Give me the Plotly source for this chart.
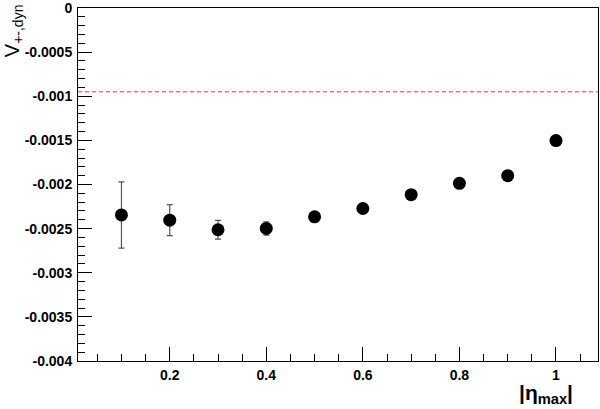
import plotly.graph_objects as go

eta_max = [0.1, 0.2, 0.3, 0.4, 0.5, 0.6, 0.7, 0.8, 0.9, 1.0]
v_dyn = [-0.002345, -0.002404, -0.002513, -0.002498, -0.002366, -0.002272, -0.002115, -0.001987, -0.001900, -0.001502]
v_err = [0.000375, 0.000175, 0.000107, 0.000075, 0.0, 0.0, 0.0, 0.0, 0.0, 0.0]
ref_level = -0.00095

x_tickvals = [0.2, 0.4, 0.6, 0.8, 1.0]
x_ticktext = ["0.2", "0.4", "0.6", "0.8", "1"]
y_tickvals = [0, -0.0005, -0.001, -0.0015, -0.002, -0.0025, -0.003, -0.0035, -0.004]
y_ticktext = ["0", "-0.0005", "-0.001", "-0.0015", "-0.002", "-0.0025", "-0.003", "-0.0035", "-0.004"]

font_b = dict(family="Liberation Sans, Arial, sans-serif", size=14, color="black", weight="bold")

fig = go.Figure()
fig.add_trace(go.Scatter(
    x=eta_max, y=v_dyn, mode="markers",
    marker=dict(color="black", size=13),
    error_y=dict(type="data", array=v_err, visible=True, color="#555555", thickness=1.2, width=3),
    showlegend=False,
))
fig.add_shape(type="line", xref="paper", x0=0, x1=1, yref="y", y0=ref_level, y1=ref_level,
              line=dict(color="#d63a3a", width=1, dash="4px,3px"))

fig.update_layout(
    width=600, height=409,
    margin=dict(l=78, r=2, t=8, b=48),
    paper_bgcolor="white", plot_bgcolor="white",
    xaxis=dict(range=[0.01, 1.087], showgrid=False, zeroline=False, automargin=False,
               showline=True, linecolor="black", linewidth=1, mirror=True,
               ticks="inside", ticklen=14, tickwidth=1, tickcolor="black",
               tickmode="array", tickvals=x_tickvals, ticktext=x_ticktext,
               tickfont=font_b, ticklabelstandoff=1,
               minor=dict(ticks="inside", ticklen=7, dtick=0.05, tick0=0, tickcolor="black", showgrid=False)),
    yaxis=dict(range=[-0.004, 1e-9], showgrid=False, zeroline=False, automargin=False,
               showline=True, linecolor="black", linewidth=1, mirror=True,
               ticks="inside", ticklen=14, tickwidth=1, tickcolor="black",
               tickmode="array", tickvals=y_tickvals, ticktext=y_ticktext,
               tickfont=font_b, ticklabelstandoff=2, ticklabeloverflow="allow",
               minor=dict(ticks="inside", ticklen=7, dtick=0.0001, tick0=0, tickcolor="black", showgrid=False)),
    annotations=[
        dict(text="V<sub>+-,dyn</sub>", xref="paper", yref="paper", x=-0.125, y=1.015,
             xanchor="center", yanchor="top", textangle=-90, showarrow=False,
             font=dict(family="Liberation Sans, Arial, sans-serif", size=20, color="black")),
        dict(text="|η<sub>max</sub>|", xref="paper", yref="paper", x=0.9, y=-0.05,
             xanchor="center", yanchor="top", showarrow=False,
             font=dict(family="Liberation Sans, Arial, sans-serif", size=21, color="black", weight="bold")),
    ],
)

fig.write_html("out.html", config={"displayModeBar": False},
               post_script="document.body.style.margin='0';document.body.style.overflow='hidden';")
